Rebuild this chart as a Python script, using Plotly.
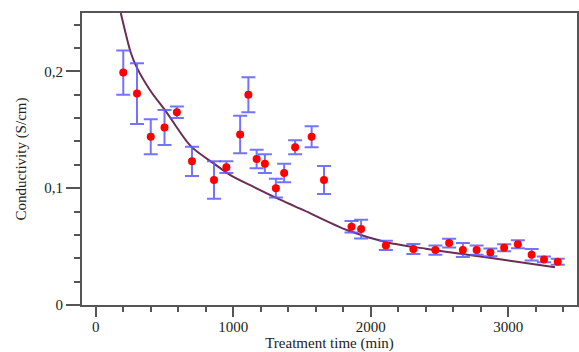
import plotly.graph_objects as go

# Measured data
time_min = [200, 300, 400, 500, 590, 700, 860, 950, 1050, 1110, 1170, 1230, 1310, 1370,
            1450, 1570, 1660, 1860, 1930, 2110, 2310, 2470, 2570, 2670, 2770, 2870,
            2970, 3070, 3170, 3260, 3360]
conductivity = [0.199, 0.181, 0.144, 0.152, 0.165, 0.123, 0.107, 0.118, 0.146, 0.180,
                0.125, 0.121, 0.100, 0.113, 0.135, 0.144, 0.107, 0.067, 0.065, 0.051,
                0.048, 0.047, 0.053, 0.047, 0.047, 0.045, 0.049, 0.052, 0.043, 0.039, 0.037]
cond_err = [0.019, 0.026, 0.015, 0.015, 0.005, 0.0125, 0.016, 0.005, 0.016, 0.015,
            0.008, 0.008, 0.008, 0.008, 0.006, 0.009, 0.012, 0.005, 0.008, 0.004,
            0.0043, 0.004, 0.0037, 0.006, 0.004, 0.0033, 0.003, 0.0035, 0.005, 0.0025, 0.0025]

# Fitted curve
fit_time = [182, 255, 300, 400, 509, 691, 860, 982, 1151, 1345, 1515, 1830, 2121,
            2400, 2680, 2850, 3000, 3340]
fit_cond = [0.25, 0.216, 0.203, 0.183, 0.166, 0.136, 0.121, 0.111, 0.101, 0.090,
            0.081, 0.064, 0.0535, 0.0482, 0.0434, 0.0406, 0.0381, 0.0324]

x_tickvals = [0, 1000, 2000, 3000]
y_tickvals = [0, 0.1, 0.2]

FONT = "Liberation Serif"

fig = go.Figure()
fig.add_trace(go.Scatter(
    x=fit_time, y=fit_cond, mode="lines",
    line=dict(color="#6b2d55", width=2, shape="spline", smoothing=0.8),
    hoverinfo="skip", showlegend=False))
fig.add_trace(go.Scatter(
    x=time_min, y=conductivity, mode="markers",
    marker=dict(color="#ff0000", size=8),
    error_y=dict(type="data", array=cond_err, visible=True,
                 color="rgba(90,90,255,0.85)", thickness=2, width=7),
    showlegend=False))

fig.update_layout(
    width=579, height=352,
    margin=dict(l=82, r=2, t=13, b=47, autoexpand=False),
    paper_bgcolor="white", plot_bgcolor="white",
    separators=",.",
    font=dict(family=FONT, size=15, color="#222222"),
)
fig.update_xaxes(
    range=[-100, 3500], showgrid=False, zeroline=False, automargin=False,
    showline=True, linecolor="#555555", linewidth=2, mirror=True,
    tickmode="array", tickvals=x_tickvals,
    ticks="outside", ticklen=10, tickwidth=1.5, tickcolor="#555555",
    minor=dict(dtick=200, tick0=0, ticks="outside", ticklen=5, tickwidth=1.5, tickcolor="#555555"),
    tickfont=dict(family=FONT, size=15), ticklabelstandoff=-3,
    title=dict(text="Treatment time (min)", font=dict(family=FONT, size=15), standoff=3),
)
fig.update_yaxes(
    range=[0, 0.25], showgrid=False, zeroline=False, automargin=False,
    showline=True, linecolor="#555555", linewidth=2, mirror=True,
    tickmode="array", tickvals=y_tickvals, ticktext=["0", "0,1", "0,2"],
    ticks="outside", ticklen=14, tickwidth=1.5, tickcolor="#555555",
    minor=dict(dtick=0.02, tick0=0, ticks="outside", ticklen=6, tickwidth=1.5, tickcolor="#555555"),
    tickfont=dict(family=FONT, size=15),
    title=dict(text="Conductivity (S/cm)", font=dict(family=FONT, size=15), standoff=14),
)

fig.write_html("out.html", config={"displayModeBar": False})

# remove default page margin so the figure sits at the window's top-left corner
with open("out.html", "r", encoding="utf-8") as f:
    html = f.read()
html = html.replace("<head>", "<head><style>html,body{margin:0;padding:0;overflow:hidden;}</style>", 1)
with open("out.html", "w", encoding="utf-8") as f:
    f.write(html)
